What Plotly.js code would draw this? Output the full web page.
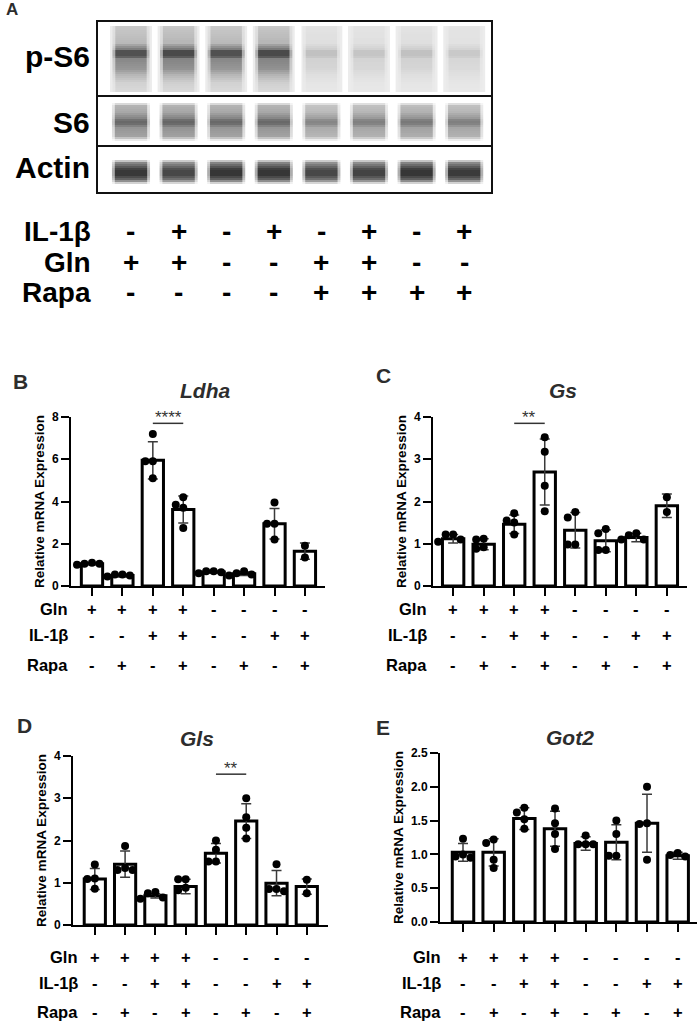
<!DOCTYPE html>
<html>
<head>
<meta charset="utf-8">
<script src="https://cdn.plot.ly/plotly-3.0.1.min.js"></script>
<style>html,body{margin:0;padding:0;background:#fff;}#chart{width:700px;height:1023px;}</style>
</head>
<body>
<div id="chart"></div>
<script>
// ---------------- DATA ----------------
// Panel A: western blot lanes
const blotRows = ['p-S6', 'S6', 'Actin'];
const blotIL1b = ['-', '+', '-', '+', '-', '+', '-', '+'];
const blotGln  = ['+', '+', '-', '-', '+', '+', '-', '-'];
const blotRapa = ['-', '-', '-', '-', '+', '+', '+', '+'];
// relative band intensity (0-1) per lane
const bandPS6   = [0.85, 0.9, 0.85, 0.9, 0.2, 0.18, 0.2, 0.16];
const bandS6    = [0.8, 0.82, 0.8, 0.8, 0.62, 0.66, 0.7, 0.66];
const bandActin = [0.95, 0.85, 0.97, 0.97, 0.85, 0.88, 0.97, 0.93];

// Panels B-E: conditions
const condGln  = ['+', '+', '+', '+', '-', '-', '-', '-'];
const condIL1b = ['-', '-', '+', '+', '-', '-', '+', '+'];
const condRapa = ['-', '+', '-', '+', '-', '+', '-', '+'];

const ldhaMean = [1.05, 0.5, 5.95, 3.62, 0.66, 0.58, 2.95, 1.65];
const ldhaSD   = [0.05, 0.07, 0.88, 0.64, 0.05, 0.08, 0.72, 0.38];
const ldhaPts  = [[1.0, 1.1, 1.05, 1.05], [0.45, 0.55, 0.55, 0.5], [7.2, 5.9, 5.9, 5.1], [4.2, 3.7, 3.85, 2.75],
                  [0.6, 0.7, 0.7, 0.65], [0.5, 0.7, 0.6, 0.55], [3.95, 2.95, 2.95, 2.2], [1.9, 1.35]];

const gsMean = [1.12, 0.99, 1.46, 2.7, 1.32, 1.07, 1.15, 1.9];
const gsSD   = [0.1, 0.13, 0.22, 0.78, 0.42, 0.26, 0.1, 0.28];
const gsPts  = [[1.22, 1.22, 1.05, 1.1], [1.1, 1.12, 0.92, 0.88], [1.72, 1.5, 1.55, 1.22], [3.52, 3.18, 2.37, 1.77],
                [1.62, 1.75, 0.98, 0.98], [1.25, 1.35, 0.85, 0.85], [1.2, 1.25, 1.1, 1.1], [2.1, 1.75]];

const glsMean = [1.09, 1.44, 0.69, 0.91, 1.7, 2.46, 0.99, 0.91];
const glsSD   = [0.25, 0.31, 0.05, 0.17, 0.23, 0.41, 0.3, 0.18];
const glsPts  = [[1.43, 1.09, 1.1, 0.86], [1.87, 1.3, 1.3, 1.35], [0.78, 0.75, 0.65, 0.62], [1.08, 1.08, 0.88, 0.82],
                 [2.0, 1.78, 1.5, 1.5], [3.0, 2.55, 2.3, 2.05], [1.44, 0.85, 0.85, 0.8], [1.07, 0.75]];

const got2Mean = [1.03, 1.03, 1.53, 1.38, 1.16, 1.18, 1.46, 0.98];
const got2SD   = [0.13, 0.2, 0.16, 0.26, 0.1, 0.26, 0.43, 0.05];
const got2Pts  = [[1.23, 0.97, 1.0, 0.95], [1.17, 1.22, 0.92, 0.8], [1.62, 1.69, 1.52, 1.38], [1.68, 1.46, 1.3, 1.08],
                  [1.28, 1.15, 1.15, 1.15], [1.5, 1.3, 0.98, 0.98], [2.0, 1.45, 1.46, 0.92], [0.97, 0.99, 1.02]];

// ---------------- LAYOUT HELPERS ----------------
const W = 700, H = 1023;
const FONT = 'Liberation Sans, Arial, sans-serif';
const px = v => v / W;
const py = v => 1 - v / H;

const panels = [
  {key: '', gene: 'Ldha', letter: 'B', mean: ldhaMean, sd: ldhaSD, pts: ldhaPts,
   x0: 71, x1: 325, yTop: 417, yBot: 586, xr: [-0.69, 7.66], yr: [0, 8], dtick: 2, fmt: 'd',
   letterPos: [20, 381], titlePos: [205, 390], rowY: [609, 635, 665], rowRight: 70,
   sig: {a: 2, b: 3, y: 7.7, text: '****'}},
  {key: '2', gene: 'Gs', letter: 'C', mean: gsMean, sd: gsSD, pts: gsPts,
   x0: 433, x1: 687, yTop: 417, yBot: 586, xr: [-0.66, 7.66], yr: [0, 4], dtick: 1, fmt: 'd',
   letterPos: [383, 375], titlePos: [563, 390], rowY: [609, 635, 665], rowRight: 429,
   sig: {a: 2, b: 3, y: 3.85, text: '**'}},
  {key: '3', gene: 'Gls', letter: 'D', mean: glsMean, sd: glsSD, pts: glsPts,
   x0: 73, x1: 328, yTop: 756, yBot: 925, xr: [-0.72, 7.7], yr: [0, 4], dtick: 1, fmt: 'd',
   letterPos: [24, 725], titlePos: [197, 738], rowY: [957, 983, 1012], rowRight: 80,
   sig: {a: 4, b: 5, y: 3.57, text: '**'}},
  {key: '4', gene: 'Got2', letter: 'E', mean: got2Mean, sd: got2SD, pts: got2Pts,
   x0: 440, x1: 697, yTop: 753, yBot: 922, xr: [-0.75, 7.63], yr: [0, 2.5], dtick: 0.5, fmt: '.1f',
   letterPos: [383, 727], titlePos: [570, 737], rowY: [957, 983, 1012], rowRight: 443,
   sig: null}
];

const traces = [];
const shapes = [];
const annotations = [];
const layout = {
  width: W, height: H,
  margin: {l: 0, r: 0, t: 0, b: 0},
  paper_bgcolor: '#fff', plot_bgcolor: 'rgba(0,0,0,0)',
  showlegend: false,
  font: {family: FONT, color: '#000'},
  bargap: 0
};

// beeswarm-like horizontal spreading of points (computed from axis scale)
function spread(vals, pxPerX, pxPerY) {
  const order = vals.map((v, i) => i).sort((a, b) => vals[b] - vals[a]);
  const placed = [];
  const offs = new Array(vals.length).fill(0);
  const step = 7.5 / pxPerX;
  const cands = [0, -step, step, -2 * step, 2 * step];
  order.forEach(i => {
    for (const c of cands) {
      const ok = placed.every(p => {
        const dx = (p.x - c) * pxPerX, dy = (p.y - vals[i]) * pxPerY;
        return Math.hypot(dx, dy) >= 7.5;
      });
      if (ok) { offs[i] = c; placed.push({x: c, y: vals[i]}); return; }
    }
    offs[i] = 0; placed.push({x: 0, y: vals[i]});
  });
  return offs;
}

panels.forEach(p => {
  const xa = 'xaxis' + p.key, ya = 'yaxis' + p.key;
  const xr = 'x' + p.key, yr = 'y' + p.key;
  const idx = p.mean.map((_, i) => i);
  layout[xa] = {
    domain: [px(p.x0), px(p.x1)], range: p.xr, anchor: yr,
    showgrid: false, zeroline: false, showline: true, linecolor: '#000', linewidth: 2,
    ticks: 'outside', ticklen: 8, tickwidth: 2, tickcolor: '#000',
    tickvals: idx, showticklabels: false, fixedrange: true
  };
  layout[ya] = {
    domain: [py(p.yBot), py(p.yTop)], range: p.yr, anchor: xr,
    showgrid: false, zeroline: false, showline: true, linecolor: '#000', linewidth: 2,
    ticks: 'outside', ticklen: 8, tickwidth: 2, tickcolor: '#000',
    dtick: p.dtick, tick0: 0, tickformat: p.fmt,
    tickfont: {family: FONT, size: 12, color: '#000', weight: 'bold'},
    title: {text: '<b>Relative mRNA Expression</b>', font: {family: FONT, size: 13.5, color: '#000'}, standoff: 4},
    fixedrange: true
  };
  traces.push({
    type: 'bar', x: idx, y: p.mean, xaxis: xr, yaxis: yr, width: 0.7,
    marker: {color: '#fff', line: {color: '#000', width: 3}},
    error_y: {type: 'data', array: p.sd, visible: true, color: '#3a3a3a', thickness: 1.5, width: 5},
    hoverinfo: 'skip'
  });
  const pxPerX = (p.x1 - p.x0) / (p.xr[1] - p.xr[0]);
  const pxPerY = (p.yBot - p.yTop) / (p.yr[1] - p.yr[0]);
  const xs = [], ys = [];
  p.pts.forEach((arr, i) => {
    const o = spread(arr, pxPerX, pxPerY);
    arr.forEach((v, j) => { xs.push(i + o[j]); ys.push(v); });
  });
  traces.push({
    type: 'scatter', mode: 'markers', x: xs, y: ys, xaxis: xr, yaxis: yr,
    marker: {color: '#000', size: 8}, hoverinfo: 'skip', cliponaxis: false
  });
  // panel letter & gene title
  annotations.push({text: '<b>' + p.letter + '</b>', xref: 'paper', yref: 'paper',
    x: px(p.letterPos[0]), y: py(p.letterPos[1]), xanchor: 'center', yanchor: 'middle',
    showarrow: false, font: {family: FONT, size: 21, color: '#2d2d2d'}});
  annotations.push({text: '<b><i>' + p.gene + '</i></b>', xref: 'paper', yref: 'paper',
    x: px(p.titlePos[0]), y: py(p.titlePos[1]), xanchor: 'center', yanchor: 'middle',
    showarrow: false, font: {family: FONT, size: 21, color: '#2d2d2d'}});
  // condition table
  const rows = [['Gln', condGln], ['IL-1β', condIL1b], ['Rapa', condRapa]];
  rows.forEach((r, k) => {
    annotations.push({text: '<b>' + r[0] + '</b>', xref: 'paper', yref: 'paper',
      x: px(p.rowRight), y: py(p.rowY[k]), xanchor: 'right', yanchor: 'middle',
      showarrow: false, font: {family: FONT, size: 16.5, color: '#000'}});
    r[1].forEach((s, i) => {
      annotations.push({text: '<b>' + s + '</b>', xref: xr, yref: 'paper',
        x: i, y: py(p.rowY[k]), xanchor: 'center', yanchor: 'middle',
        showarrow: false, font: {family: FONT, size: 16.5, color: '#000'}});
    });
  });
  // significance bracket
  if (p.sig) {
    shapes.push({type: 'line', xref: xr, yref: yr, x0: p.sig.a, x1: p.sig.b, y0: p.sig.y, y1: p.sig.y,
      line: {color: '#333', width: 1.5}});
    annotations.push({text: p.sig.text, xref: xr, yref: yr, x: (p.sig.a + p.sig.b) / 2, y: p.sig.y,
      xanchor: 'center', yanchor: 'bottom', yshift: -6, showarrow: false,
      font: {family: FONT, size: 17, color: '#333'}});
  }
});

// ---------------- PANEL A: WESTERN BLOT ----------------
// lane axis (x5) and box axis (y5, 0 = top of box, 172 = bottom)
const BOX = {x0: 97, x1: 492, y0: 21, y1: 193};
const laneStart = -0.714, laneEnd = 7.584;
layout.xaxis5 = {domain: [px(BOX.x0), px(BOX.x1)], range: [laneStart, laneEnd], visible: false, fixedrange: true, anchor: 'y5'};
layout.yaxis5 = {domain: [py(BOX.y1), py(BOX.y0)], range: [BOX.y1 - BOX.y0, 0], visible: false, fixedrange: true, anchor: 'x5'};
traces.push({type: 'scatter', x: [0], y: [0], xaxis: 'x5', yaxis: 'y5', mode: 'markers',
  marker: {opacity: 0}, hoverinfo: 'skip'});

// vertical darkness profile of each band row: [offset from core (box px), darkness]
const rowGeom = [
  {core: 32, half: 0.36, label: 57, prof: [[-27, 0.16], [-10, 0.24], [-4, 0.55], [-2, 0.85], [3, 0.85], [6, 0.5], [16, 0.42], [22, 0.25], [30, 0.12], [38, 0.08]]},
  {core: 101, half: 0.37, label: 122, prof: [[-19, 0.0], [-17, 0.35], [-10, 0.42], [-4, 0.6], [-1, 0.8], [2, 0.75], [6, 0.52], [14, 0.45], [17, 0.2], [19, 0.0]]},
  {core: 151, half: 0.37, label: 168, prof: [[-12, 0.0], [-10, 0.45], [-5, 0.75], [-2, 0.95], [3, 0.95], [7, 0.7], [10, 0.35], [12, 0.0]]}
];
const bands = [bandPS6, bandS6, bandActin];
function profAt(prof, d) {
  for (let k = 0; k < prof.length - 1; k++) {
    const a = prof[k], b = prof[k + 1];
    if (d >= a[0] && d <= b[0]) return a[1] + (b[1] - a[1]) * (d - a[0]) / (b[0] - a[0]);
  }
  return 0;
}

// p-S6 lane background strips (membrane)
bandPS6.forEach((v, i) => {
  shapes.push({type: 'rect', xref: 'x5', yref: 'y5', x0: i - 0.44, x1: i + 0.44, y0: 5, y1: 71,
    fillcolor: '#ececec', line: {width: 0}, layer: 'below'});
});
bands.forEach((arr, r) => {
  const g = rowGeom[r];
  const d0 = g.prof[0][0], d1 = g.prof[g.prof.length - 1][0];
  arr.forEach((v, i) => {
    for (let d = d0; d < d1; d += 2) {
      const a = profAt(g.prof, d + 1) * v;
      if (a <= 0.005) continue;
      // soft side edges: slightly wider faint slice + core slice
      shapes.push({type: 'rect', xref: 'x5', yref: 'y5',
        x0: i - g.half - 0.03, x1: i + g.half + 0.03, y0: g.core + d, y1: g.core + d + 2,
        fillcolor: 'rgba(0,0,0,' + (a * 0.35).toFixed(3) + ')', line: {width: 0}, layer: 'below'});
      shapes.push({type: 'rect', xref: 'x5', yref: 'y5',
        x0: i - g.half + 0.03, x1: i + g.half - 0.03, y0: g.core + d, y1: g.core + d + 2,
        fillcolor: 'rgba(0,0,0,' + (a * 0.75).toFixed(3) + ')', line: {width: 0}, layer: 'below'});
    }
  });
  annotations.push({text: '<b>' + blotRows[r] + '</b>', xref: 'paper', yref: 'paper',
    x: px(92), y: py(g.label), xanchor: 'right', yanchor: 'middle', showarrow: false,
    font: {family: FONT, size: 30, color: '#000'}});
});
// white divider between lane groups in p-S6 image
shapes.push({type: 'line', xref: 'x5', yref: 'y5', x0: 3.55, x1: 3.55, y0: 3, y1: 73, line: {color: '#fff', width: 3}});
// box and separators
shapes.push({type: 'rect', xref: 'x5 domain', yref: 'y5 domain', x0: 0, x1: 1, y0: 0, y1: 1,
  line: {color: '#111', width: 2}, fillcolor: 'rgba(0,0,0,0)'});
[75, 125].forEach(y => shapes.push({type: 'line', xref: 'x5 domain', yref: 'y5', x0: 0, x1: 1, y0: y, y1: y,
  line: {color: '#111', width: 2}}));

annotations.push({text: '<b>A</b>', xref: 'paper', yref: 'paper', x: px(12), y: py(10),
  xanchor: 'center', yanchor: 'middle', showarrow: false, font: {family: FONT, size: 17, color: '#2d2d2d'}});

const blotCond = [['IL-1β', blotIL1b, 231], ['Gln', blotGln, 262], ['Rapa', blotRapa, 293]];
blotCond.forEach(r => {
  annotations.push({text: '<b>' + r[0] + '</b>', xref: 'paper', yref: 'paper', x: px(93), y: py(r[2]),
    xanchor: 'right', yanchor: 'middle', showarrow: false, font: {family: FONT, size: 28, color: '#000'}});
  r[1].forEach((s, i) => annotations.push({text: '<b>' + s + '</b>', xref: 'x5', yref: 'paper', x: i, y: py(r[2]),
    xanchor: 'center', yanchor: 'middle', showarrow: false, font: {family: FONT, size: 28, color: '#000'}}));
});

layout.shapes = shapes;
layout.annotations = annotations;
Plotly.newPlot('chart', traces, layout, {staticPlot: true, displayModeBar: false});
</script>
</body>
</html>
